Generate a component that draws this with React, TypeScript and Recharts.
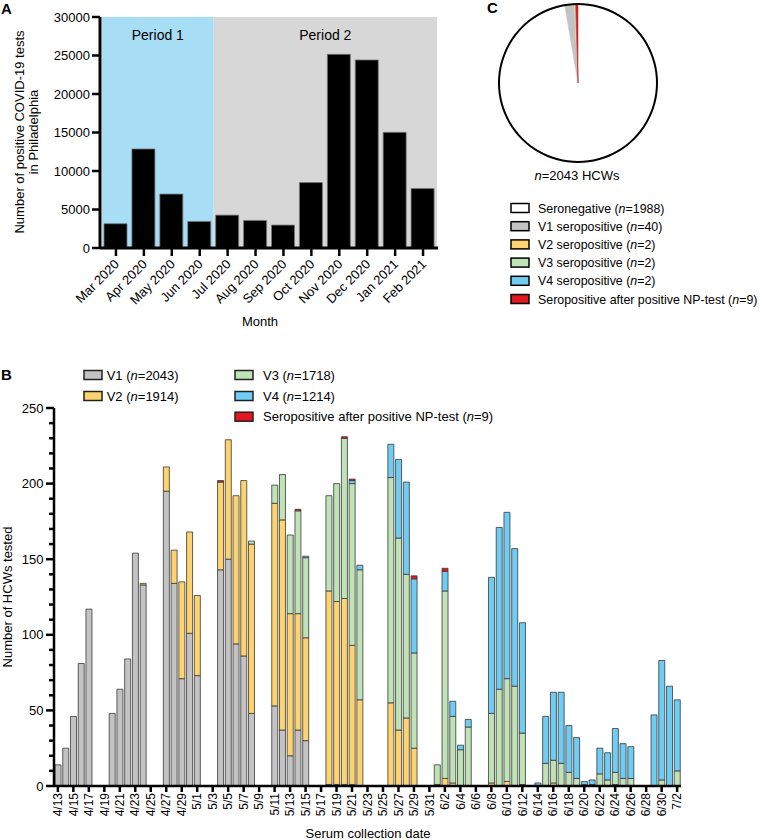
import React from 'react';
import { BarChart, Bar, XAxis, YAxis, ReferenceArea, PieChart, Pie, Cell, Label } from 'recharts';

const FONT = '"Liberation Sans", Arial, Helvetica, sans-serif';

// Panel A: positive COVID-19 tests in Philadelphia, per month
const months = ['Mar 2020', 'Apr 2020', 'May 2020', 'Jun 2020', 'Jul 2020', 'Aug 2020', 'Sep 2020', 'Oct 2020', 'Nov 2020', 'Dec 2020', 'Jan 2021', 'Feb 2021'];
const positiveTests = [3150, 12860, 7000, 3450, 4270, 3580, 2980, 8500, 25150, 24420, 15020, 7720];
const aTicks = [0, 5000, 10000, 15000, 20000, 25000, 30000];

// Panel B: HCWs tested per serum collection date (only days with samples listed)
const bDays = [
  '4/13', '4/14', '4/15', '4/16', '4/17',
  '4/20', '4/21', '4/22', '4/23', '4/24',
  '4/27', '4/28', '4/29', '4/30', '5/1',
  '5/4', '5/5', '5/6', '5/7', '5/8',
  '5/11', '5/12', '5/13', '5/14', '5/15',
  '5/18', '5/19', '5/20', '5/21', '5/22',
  '5/26', '5/27', '5/28', '5/29',
  '6/1', '6/2', '6/3', '6/4', '6/5',
  '6/8', '6/9', '6/10', '6/11', '6/12',
  '6/14', '6/15', '6/16', '6/17', '6/18', '6/19',
  '6/20', '6/21', '6/22', '6/23', '6/24', '6/25', '6/26',
  '6/29', '6/30', '7/1', '7/2',
];
const v1 = [
  14, 25, 46, 81, 117,
  48, 64, 84, 154, 133,
  195, 134, 71, 101, 73,
  143, 150, 94, 86, 48,
  53, 37, 20, 37, 30,
  1, 1, 1, 1, 0,
  0, 0, 0, 0,
  0, 0, 0, 0, 0,
  0, 0, 0, 0, 0,
  0, 0, 0, 0, 0, 0,
  0, 0, 0, 0, 0, 0, 0,
  0, 0, 0, 0,
];
const v2 = [
  0, 0, 0, 0, 0,
  0, 0, 0, 0, 1,
  16, 22, 64, 67, 53,
  58, 79, 98, 116, 112,
  134, 139, 94, 77, 68,
  128, 121, 123, 92, 57,
  55, 37, 45, 25,
  1, 5, 2, 0, 0,
  2, 0, 3, 0, 1,
  0, 0, 2, 0, 0, 0,
  0, 0, 0, 0, 1, 0, 0,
  0, 0, 0, 0,
];
const v3 = [
  0, 0, 0, 0, 0,
  0, 0, 0, 0, 0,
  0, 0, 0, 0, 0,
  0, 0, 0, 0, 2,
  12, 30, 52, 68, 53,
  63, 78, 106, 107, 86,
  149, 127, 95, 63,
  13, 124, 44, 24, 39,
  46, 64, 68, 66, 34,
  0, 15, 15, 15, 9, 5,
  1, 1, 8, 4, 8, 5, 5,
  0, 4, 0, 10,
];
const v4 = [
  0, 0, 0, 0, 0,
  0, 0, 0, 0, 0,
  0, 0, 0, 0, 0,
  0, 0, 0, 0, 0,
  0, 0, 0, 0, 1,
  0, 0, 0, 2, 3,
  22, 52, 61, 49,
  0, 13, 10, 3, 5,
  90, 107, 110, 91, 73,
  2, 31, 45, 47, 31, 27,
  2, 3, 17, 18, 29, 23, 21,
  47, 79, 66, 47,
];
const npPositive = [
  0, 0, 0, 0, 0,
  0, 0, 0, 0, 0,
  0, 0, 0, 0, 0,
  1, 0, 0, 0, 0,
  0, 0, 0, 1, 0,
  0, 0, 1, 1, 0,
  0, 0, 0, 2,
  0, 2, 0, 0, 0,
  0, 0, 0, 0, 0,
  0, 0, 0, 0, 0, 0,
  0, 0, 0, 0, 0, 0, 0,
  0, 0, 0, 0,
];
const bTicks = [0, 10, 20, 30, 40, 50, 60, 70, 80, 90, 100, 110, 120, 130, 140, 150, 160, 170, 180, 190, 200, 210, 220, 230, 240, 250];
// calendar span of the x axis: [month, first day, last day]
const monthSpans = [[4, 13, 30], [5, 1, 31], [6, 1, 30], [7, 1, 2]];
const bSeries = [
  { key: 'v1', label: 'V1', n: 2043, color: '#c3c3c3' },
  { key: 'v2', label: 'V2', n: 1914, color: '#fdd36f' },
  { key: 'v3', label: 'V3', n: 1718, color: '#bfe2b7' },
  { key: 'v4', label: 'V4', n: 1214, color: '#6fcdf3' },
  { key: 'np', label: 'Seropositive after positive NP-test', n: 9, color: '#e3171f' },
];

// Panel C: serostatus of all HCWs
const pieLabels = ['Seronegative', 'V1 seropositive', 'V2 seropositive', 'V3 seropositive', 'V4 seropositive', 'Seropositive after positive NP-test'];
const pieCounts = [1988, 40, 2, 2, 2, 9];
const pieColors = ['#ffffff', '#c3c3c3', '#fdd36f', '#bfe2b7', '#6fcdf3', '#e3171f'];

const aData = months.map((m, i) => ({ month: m, count: positiveTests[i] }));

const allDays = monthSpans.flatMap(([m, a, b]) =>
  Array.from({ length: b - a + 1 }, (_, i) => `${m}/${a + i}`)
);
const bData = allDays.map((d) => {
  const i = bDays.indexOf(d);
  return {
    day: d,
    v1: i < 0 ? 0 : v1[i],
    v2: i < 0 ? 0 : v2[i],
    v3: i < 0 ? 0 : v3[i],
    v4: i < 0 ? 0 : v4[i],
    np: i < 0 ? 0 : npPositive[i],
  };
});
const pieData = pieLabels.map((l, i) => ({ name: l, value: pieCounts[i] }));

const AMonthTick = ({ x, y, payload }: any) => (
  <text
    transform={`translate(${x + 4},${y + 7}) rotate(-45)`}
    textAnchor="end"
    fontSize={13}
    fill="#000"
  >
    {payload.value}
  </text>
);

const BDayTick = ({ x, y, payload }: any) => (
  <text
    transform={`translate(${x},${y - 1}) rotate(-90)`}
    textAnchor="end"
    dy="0.35em"
    fontSize={12}
    fill="#000"
  >
    {payload.value}
  </text>
);

const BCountTick = ({ x, y, payload }: any) => {
  const major = payload.value % 50 === 0;
  return (
    <g>
      <line x1={x - (major ? 8 : 5)} x2={x} y1={y} y2={y} stroke="#000" strokeWidth={2.5} />
      {major && (
        <text x={x - 10.5} y={y} dy="0.35em" textAnchor="end" fontSize={13} fill="#000">
          {payload.value}
        </text>
      )}
    </g>
  );
};

function PanelA() {
  return (
    <BarChart
      width={450}
      height={335}
      data={aData}
      margin={{ top: 17, right: 12, bottom: 12, left: 40 }}
      barSize={23}
    >
      <ReferenceArea
        x1="Mar 2020"
        x2="Jun 2020"
        y1={0}
        y2={30000}
        ifOverflow="visible"
        fill="#a8ddf6"
        fillOpacity={1}
        stroke="none"
        label={{ value: 'Period 1', position: 'insideTop', offset: 13, fontSize: 14, fill: '#000' }}
      />
      <ReferenceArea
        x1="Jul 2020"
        x2="Feb 2021"
        y1={0}
        y2={30000}
        ifOverflow="visible"
        fill="#d7d7d7"
        fillOpacity={1}
        stroke="none"
        label={{ value: 'Period 2', position: 'insideTop', offset: 13, fontSize: 14, fill: '#000' }}
      />
      <XAxis
        dataKey="month"
        interval={0}
        height={75}
        padding={{ left: 2, right: 1 }}
        tick={<AMonthTick />}
        tickSize={8}
        axisLine={{ stroke: '#000', strokeWidth: 3 }}
        tickLine={{ stroke: '#000', strokeWidth: 2.5 }}
      >
        <Label
          content={() => (
            <text x={260} y={326} textAnchor="middle" fontSize={13} fill="#000">
              Month
            </text>
          )}
        />
      </XAxis>
      <YAxis
        domain={[0, 30000]}
        ticks={aTicks}
        interval={0}
        width={60}
        tickSize={8}
        tickMargin={2}
        tick={{ fontSize: 13, fill: '#000' }}
        axisLine={{ stroke: '#000', strokeWidth: 3 }}
        tickLine={{ stroke: '#000', strokeWidth: 2.5 }}
      >
        <Label
          content={() => (
            <g fontSize={13} fill="#000">
              <text transform="translate(23.5,132) rotate(-90)" textAnchor="middle">
                Number of positive COVID-19 tests
              </text>
              <text transform="translate(37.5,132) rotate(-90)" textAnchor="middle">
                in Philadelphia
              </text>
            </g>
          )}
        />
      </YAxis>
      <Bar dataKey="count" fill="#000" stroke="#777" strokeWidth={0.8} isAnimationActive={false} />
    </BarChart>
  );
}

function PanelB() {
  return (
    <BarChart
      width={700}
      height={480}
      data={bData}
      margin={{ top: 48, right: 19, bottom: 14, left: 0 }}
      barSize={6}
    >
      <XAxis
        dataKey="day"
        interval={1}
        height={40}
        tick={<BDayTick />}
        tickSize={6}
        axisLine={{ stroke: '#000', strokeWidth: 2.5 }}
        tickLine={{ stroke: '#000', strokeWidth: 2.5 }}
      >
        <Label
          content={() => (
            <text x={368} y={478} textAnchor="middle" fontSize={13} fill="#000">
              Serum collection date
            </text>
          )}
        />
      </XAxis>
      <YAxis
        domain={[0, 250]}
        ticks={bTicks}
        interval={0}
        width={54}
        tickSize={0}
        tickMargin={0}
        tickLine={false}
        tick={<BCountTick />}
        axisLine={{ stroke: '#000', strokeWidth: 2.5 }}
      >
        <Label
          content={() => (
            <text transform="translate(11.5,237) rotate(-90)" textAnchor="middle" fontSize={13} fill="#000">
              Number of HCWs tested
            </text>
          )}
        />
      </YAxis>
      {bSeries.map((s) => (
        <Bar
          key={s.key}
          dataKey={s.key}
          stackId="b"
          fill={s.color}
          stroke="#3a3a3a"
          strokeWidth={0.8}
          isAnimationActive={false}
        />
      ))}
    </BarChart>
  );
}

function PanelC() {
  return (
    <PieChart width={200} height={170} margin={{ top: 0, right: 0, bottom: 0, left: 0 }}>
      <Pie
        data={pieData}
        dataKey="value"
        cx={98}
        cy={83}
        outerRadius={79}
        startAngle={90}
        endAngle={-270}
        stroke="none"
        label={false}
        labelLine={false}
        isAnimationActive={false}
      >
        {pieData.map((d, i) => (
          <Cell key={d.name} fill={pieColors[i]} stroke={i === 0 ? 'none' : pieColors[i]} strokeWidth={0.5} />
        ))}
      </Pie>
      <Pie
        data={[{ name: 'outline', value: 1 }]}
        dataKey="value"
        cx={98}
        cy={83}
        innerRadius={78}
        outerRadius={80}
        startAngle={90}
        endAngle={-270}
        fill="#000"
        stroke="none"
        label={false}
        labelLine={false}
        isAnimationActive={false}
      />
    </PieChart>
  );
}

function Overlay() {
  const bPos = [
    { x: 84, y: 375, tx: 106.7 },
    { x: 84, y: 396, tx: 106.7 },
    { x: 235, y: 375, tx: 263 },
    { x: 235, y: 396, tx: 263 },
    { x: 235, y: 416.7, tx: 263 },
  ];
  return (
    <svg width={762} height={840} style={{ position: 'absolute', left: 0, top: 0, pointerEvents: 'none' }}>
      <g fontWeight="bold" fontSize={15} fill="#000">
        <text x={1} y={14}>A</text>
        <text x={1} y={380}>B</text>
        <text x={487} y={13}>C</text>
      </g>
      <text x={577} y={180} textAnchor="middle" fontSize={13} fill="#000">
        <tspan fontStyle="italic">n</tspan>=2043 HCWs
      </text>
      {pieLabels.map((l, i) => {
        const cy = 208 + i * 18.2;
        return (
          <g key={l}>
            <rect x={511} y={cy - 4.5} width={18} height={9} fill={pieColors[i]} stroke="#000" strokeWidth={1.5} />
            <text x={538} y={cy + 4.5} fontSize={12.4} fill="#000">
              {l} (<tspan fontStyle="italic">n</tspan>={pieCounts[i]})
            </text>
          </g>
        );
      })}
      {bSeries.map((s, i) => {
        const p = bPos[i];
        return (
          <g key={s.key}>
            <rect x={p.x} y={p.y - 4.5} width={18} height={9} fill={s.color} stroke="#222" strokeWidth={1.5} />
            <text x={p.tx} y={p.y + 4.5} fontSize={13} fill="#000">
              {s.label} (<tspan fontStyle="italic">n</tspan>={s.n})
            </text>
          </g>
        );
      })}
    </svg>
  );
}

export default function App() {
  return (
    <div style={{ position: 'absolute', left: 0, top: 0, width: 762, height: 840, background: '#fff', fontFamily: FONT }}>
      <div style={{ position: 'absolute', left: 0, top: 0 }}>
        <PanelA />
      </div>
      <div style={{ position: 'absolute', left: 0, top: 360 }}>
        <PanelB />
      </div>
      <div style={{ position: 'absolute', left: 480, top: 0 }}>
        <PanelC />
      </div>
      <Overlay />
    </div>
  );
}
